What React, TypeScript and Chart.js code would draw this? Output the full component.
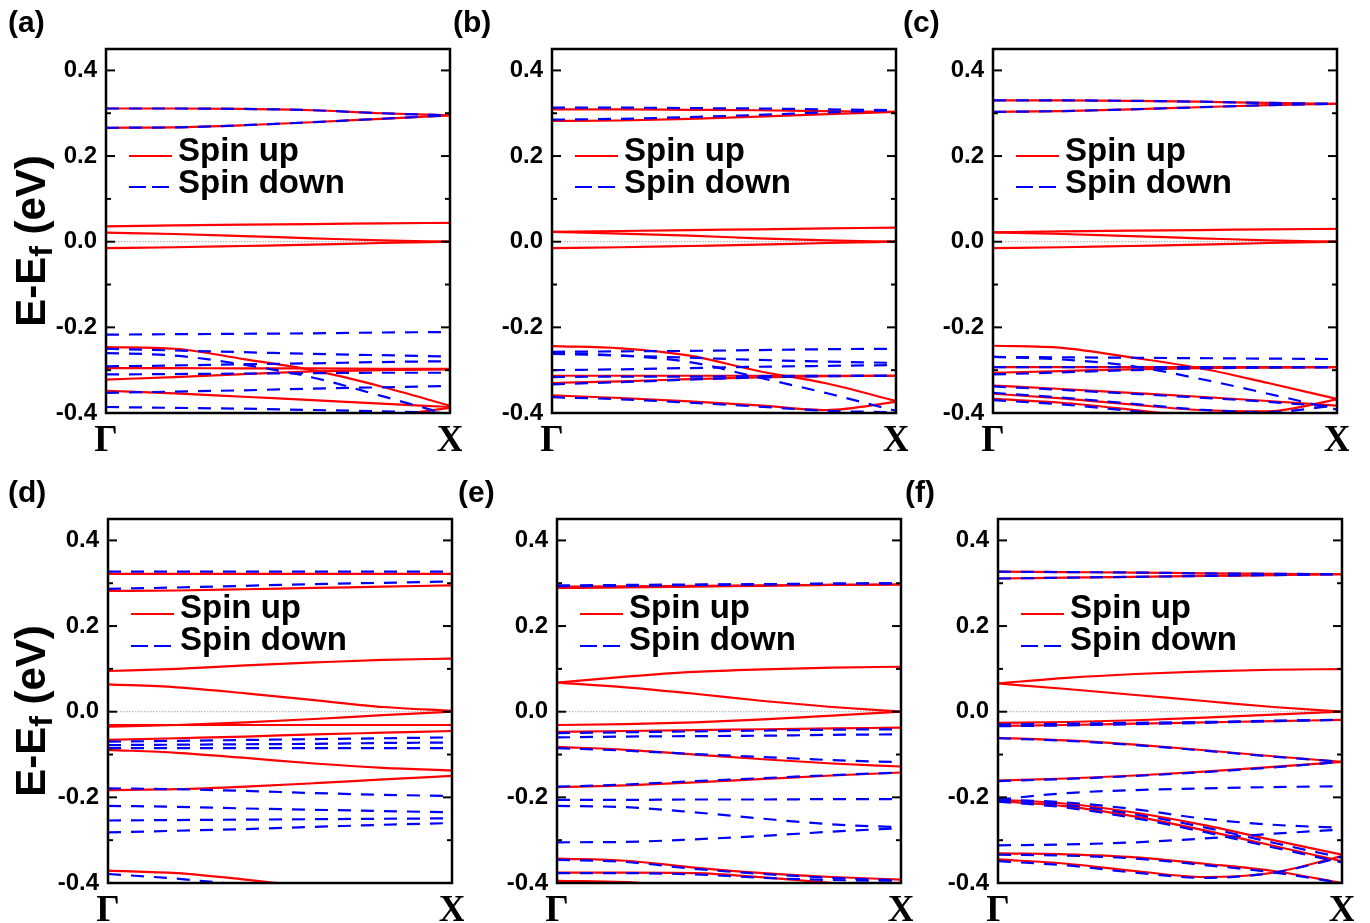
import React, { useEffect, useRef } from "react";
import { Chart, registerables } from "chart.js";
Chart.register(...registerables);

// k-path sampling points (Γ = 0, X = 1)
const K = [0, 0.2, 0.4, 0.6, 0.8, 1.0];
const ZERO_LINE = [0, 0, 0, 0, 0, 0];
const Y_TICKS = [-0.4, -0.2, 0.0, 0.2, 0.4];
const Y_MINOR = [-0.3, -0.1, 0.1, 0.3];
const X_TICK_LABELS = ["Γ", "X"];
const LEGEND_LABELS = ["Spin up", "Spin down"];
const PANEL_LABELS = ["(a)", "(b)", "(c)", "(d)", "(e)", "(f)"];
const Y_TITLE = ["E-E", "f", " (eV)"];

// ---------- panel (a) ----------
const A_UP = [
  [0.311, 0.311, 0.31, 0.307, 0.3, 0.295],
  [0.266, 0.267, 0.272, 0.279, 0.287, 0.295],
  [0.036, 0.038, 0.04, 0.041, 0.043, 0.044],
  [0.021, 0.018, 0.013, 0.008, 0.003, 0.0],
  [-0.015, -0.013, -0.01, -0.007, -0.003, 0.0],
  [-0.246, -0.25, -0.274, -0.3, -0.338, -0.383],
  [-0.295, -0.295, -0.296, -0.296, -0.297, -0.297],
  [-0.322, -0.316, -0.309, -0.303, -0.3, -0.298],
  [-0.348, -0.354, -0.362, -0.37, -0.378, -0.386],
  [-0.47, -0.46, -0.45, -0.435, -0.41, -0.388],
];
const A_DOWN = [
  [0.311, 0.311, 0.31, 0.307, 0.3, 0.295],
  [0.266, 0.267, 0.272, 0.279, 0.287, 0.295],
  [-0.217, -0.216, -0.215, -0.214, -0.212, -0.211],
  [-0.25, -0.254, -0.258, -0.262, -0.265, -0.268],
  [-0.26, -0.266, -0.287, -0.317, -0.36, -0.405],
  [-0.291, -0.289, -0.286, -0.284, -0.281, -0.279],
  [-0.31, -0.309, -0.308, -0.307, -0.306, -0.306],
  [-0.353, -0.35, -0.347, -0.343, -0.34, -0.337],
  [-0.386, -0.388, -0.39, -0.393, -0.396, -0.4],
];

// ---------- panel (b) ----------
const B_UP = [
  [0.309, 0.309, 0.308, 0.307, 0.305, 0.303],
  [0.282, 0.283, 0.287, 0.292, 0.298, 0.303],
  [0.023, 0.025, 0.027, 0.029, 0.031, 0.033],
  [0.023, 0.019, 0.014, 0.008, 0.003, 0.0],
  [-0.015, -0.013, -0.01, -0.007, -0.003, 0.0],
  [-0.244, -0.249, -0.266, -0.302, -0.331, -0.372],
  [-0.313, -0.313, -0.313, -0.313, -0.313, -0.313],
  [-0.33, -0.326, -0.321, -0.317, -0.314, -0.313],
  [-0.359, -0.365, -0.373, -0.382, -0.393, -0.374],
];
const B_DOWN = [
  [0.313, 0.313, 0.312, 0.311, 0.309, 0.307],
  [0.285, 0.287, 0.291, 0.296, 0.302, 0.307],
  [-0.257, -0.256, -0.255, -0.253, -0.251, -0.25],
  [-0.259, -0.266, -0.281, -0.317, -0.354, -0.395],
  [-0.262, -0.266, -0.271, -0.276, -0.28, -0.283],
  [-0.3, -0.298, -0.295, -0.292, -0.29, -0.288],
  [-0.316, -0.315, -0.315, -0.314, -0.313, -0.313],
  [-0.333, -0.328, -0.322, -0.317, -0.314, -0.313],
  [-0.363, -0.368, -0.376, -0.385, -0.395, -0.398],
];

// ---------- panel (c) ----------
const C_UP = [
  [0.33, 0.33, 0.329, 0.327, 0.324, 0.322],
  [0.303, 0.305, 0.309, 0.314, 0.319, 0.322],
  [0.022, 0.024, 0.026, 0.027, 0.029, 0.03],
  [0.022, 0.018, 0.013, 0.008, 0.003, 0.0],
  [-0.015, -0.013, -0.01, -0.007, -0.003, 0.0],
  [-0.243, -0.248, -0.27, -0.295, -0.33, -0.367],
  [-0.293, -0.293, -0.293, -0.293, -0.293, -0.293],
  [-0.306, -0.302, -0.298, -0.295, -0.294, -0.293],
  [-0.336, -0.344, -0.353, -0.362, -0.372, -0.383],
  [-0.355, -0.366, -0.38, -0.393, -0.396, -0.368],
  [-0.367, -0.376, -0.392, -0.41, -0.43, -0.45],
];
const C_DOWN = [
  [0.33, 0.33, 0.329, 0.327, 0.324, 0.322],
  [0.303, 0.305, 0.309, 0.314, 0.319, 0.322],
  [-0.269, -0.27, -0.271, -0.272, -0.273, -0.274],
  [-0.269, -0.275, -0.29, -0.32, -0.355, -0.392],
  [-0.293, -0.293, -0.293, -0.293, -0.293, -0.293],
  [-0.31, -0.305, -0.3, -0.296, -0.294, -0.293],
  [-0.338, -0.346, -0.355, -0.364, -0.374, -0.386],
  [-0.353, -0.364, -0.378, -0.392, -0.398, -0.382],
  [-0.37, -0.38, -0.395, -0.412, -0.43, -0.45],
];

// ---------- panel (d) ----------
const D_UP = [
  [0.322, 0.322, 0.322, 0.322, 0.322, 0.322],
  [0.282, 0.283, 0.286, 0.289, 0.292, 0.295],
  [0.095, 0.1, 0.108, 0.115, 0.121, 0.124],
  [0.064, 0.057, 0.043, 0.027, 0.011, 0.002],
  [-0.035, -0.031, -0.025, -0.017, -0.008, 0.0],
  [-0.031, -0.031, -0.031, -0.031, -0.031, -0.031],
  [-0.066, -0.062, -0.058, -0.053, -0.049, -0.045],
  [-0.089, -0.096, -0.108, -0.121, -0.131, -0.137],
  [-0.183, -0.181, -0.175, -0.167, -0.158, -0.15],
  [-0.371, -0.377, -0.392, -0.41, -0.43, -0.45],
];
const D_DOWN = [
  [0.327, 0.327, 0.327, 0.327, 0.327, 0.327],
  [0.287, 0.29, 0.294, 0.298, 0.301, 0.304],
  [-0.07, -0.068, -0.066, -0.064, -0.062, -0.06],
  [-0.078, -0.077, -0.076, -0.075, -0.073, -0.072],
  [-0.085, -0.085, -0.085, -0.085, -0.085, -0.085],
  [-0.179, -0.181, -0.185, -0.19, -0.194, -0.197],
  [-0.22, -0.222, -0.226, -0.229, -0.232, -0.235],
  [-0.254, -0.253, -0.252, -0.251, -0.25, -0.249],
  [-0.282, -0.278, -0.274, -0.269, -0.264, -0.26],
  [-0.379, -0.39, -0.405, -0.42, -0.44, -0.46],
];

// ---------- panel (e) ----------
const E_UP = [
  [0.292, 0.293, 0.294, 0.295, 0.296, 0.297],
  [0.289, 0.29, 0.292, 0.294, 0.296, 0.297],
  [0.068, 0.082, 0.093, 0.099, 0.103, 0.105],
  [0.068, 0.057, 0.042, 0.025, 0.011, 0.0],
  [-0.031, -0.029, -0.025, -0.018, -0.009, 0.0],
  [-0.047, -0.045, -0.043, -0.041, -0.039, -0.037],
  [-0.082, -0.089, -0.1, -0.111, -0.121, -0.128],
  [-0.176, -0.172, -0.165, -0.157, -0.149, -0.142],
  [-0.343, -0.348, -0.364, -0.377, -0.386, -0.392],
  [-0.376, -0.376, -0.377, -0.387, -0.4, -0.41],
  [-0.395, -0.398, -0.41, -0.42, -0.43, -0.44],
];
const E_DOWN = [
  [0.295, 0.296, 0.297, 0.298, 0.299, 0.3],
  [0.293, 0.294, 0.296, 0.297, 0.299, 0.3],
  [-0.05, -0.048, -0.046, -0.044, -0.042, -0.041],
  [-0.06, -0.058, -0.057, -0.056, -0.054, -0.053],
  [-0.085, -0.091, -0.099, -0.106, -0.113, -0.118],
  [-0.175, -0.17, -0.162, -0.155, -0.148, -0.142],
  [-0.206, -0.206, -0.205, -0.205, -0.204, -0.204],
  [-0.22, -0.223, -0.235, -0.25, -0.263, -0.27],
  [-0.305, -0.304, -0.298, -0.29, -0.28, -0.272],
  [-0.346, -0.351, -0.367, -0.379, -0.388, -0.394],
  [-0.377, -0.377, -0.38, -0.388, -0.393, -0.395],
];

// ---------- panel (f) ----------
const F_UP = [
  [0.327, 0.326, 0.325, 0.323, 0.322, 0.321],
  [0.311, 0.313, 0.315, 0.317, 0.319, 0.321],
  [0.066, 0.079, 0.088, 0.094, 0.098, 0.0995],
  [0.066, 0.053, 0.039, 0.025, 0.011, 0.0],
  [-0.026, -0.024, -0.02, -0.014, -0.007, 0.0],
  [-0.033, -0.031, -0.028, -0.025, -0.022, -0.019],
  [-0.061, -0.067, -0.077, -0.09, -0.104, -0.117],
  [-0.161, -0.156, -0.149, -0.14, -0.129, -0.117],
  [-0.205, -0.215, -0.236, -0.265, -0.3, -0.334],
  [-0.209, -0.221, -0.245, -0.277, -0.313, -0.349],
  [-0.331, -0.333, -0.34, -0.355, -0.372, -0.4],
  [-0.345, -0.355, -0.372, -0.386, -0.376, -0.337],
];
const F_DOWN = [
  [0.327, 0.326, 0.325, 0.323, 0.322, 0.321],
  [0.311, 0.313, 0.315, 0.317, 0.319, 0.321],
  [-0.03, -0.028, -0.026, -0.024, -0.021, -0.019],
  [-0.034, -0.032, -0.029, -0.026, -0.022, -0.019],
  [-0.062, -0.068, -0.078, -0.091, -0.105, -0.117],
  [-0.162, -0.157, -0.15, -0.141, -0.13, -0.117],
  [-0.205, -0.19, -0.183, -0.179, -0.176, -0.174],
  [-0.206, -0.218, -0.24, -0.27, -0.306, -0.341],
  [-0.21, -0.224, -0.249, -0.281, -0.317, -0.352],
  [-0.205, -0.212, -0.228, -0.25, -0.264, -0.271],
  [-0.312, -0.31, -0.305, -0.296, -0.285, -0.275],
  [-0.334, -0.336, -0.343, -0.358, -0.375, -0.4],
  [-0.349, -0.359, -0.376, -0.388, -0.376, -0.34],
];

const RED = "#ff0000";
const BLUE = "#0000ff";
const SANS = "'Liberation Sans', Arial, sans-serif";
const SERIF = "'Liberation Serif', 'Times New Roman', serif";

// layout of the six panels (pixel placement only)
const CANVAS_H = 453;
const AREA_W = 344;
const AREA_TOP = 49;
const AREA_H = 364;
const PANELS = [
  { label: 0, up: A_UP, down: A_DOWN, left: 0, top: 0, areaLeft: 106, title: true, leg: [103, 107, 135, 138] },
  { label: 1, up: B_UP, down: B_DOWN, left: 445, top: 0, areaLeft: 107, title: false, leg: [103, 107, 135, 138] },
  { label: 2, up: C_UP, down: C_DOWN, left: 895, top: 0, areaLeft: 98, title: false, leg: [103, 107, 135, 138] },
  { label: 3, up: D_UP, down: D_DOWN, left: 0, top: 470, areaLeft: 108, title: true, leg: [90, 95, 122, 127] },
  { label: 4, up: E_UP, down: E_DOWN, left: 450, top: 470, areaLeft: 107, title: false, leg: [90, 95, 122, 127] },
  { label: 5, up: F_UP, down: F_DOWN, left: 897, top: 470, areaLeft: 101, title: false, leg: [90, 95, 122, 127] },
];

const toPoints = (vals: number[]) => vals.map((y, i) => ({ x: K[i], y }));

const decorPlugin = {
  id: "decor",
  afterDatasetsDraw(chart: any, _args: any, opts: any) {
    const { ctx, chartArea: a, scales } = chart;
    const y = scales.y;
    ctx.save();
    ctx.strokeStyle = "#000";
    ctx.lineWidth = 2;
    const seg = (x1: number, y1: number, x2: number, y2: number) => {
      ctx.beginPath();
      ctx.moveTo(x1, y1);
      ctx.lineTo(x2, y2);
      ctx.stroke();
    };
    Y_TICKS.forEach((v) => {
      const py = y.getPixelForValue(v);
      seg(a.left, py, a.left + 9, py);
      seg(a.right - 9, py, a.right, py);
    });
    Y_MINOR.forEach((v) => {
      const py = y.getPixelForValue(v);
      seg(a.left, py, a.left + 5, py);
      seg(a.right - 5, py, a.right, py);
    });
    ctx.lineWidth = 2.5;
    ctx.strokeRect(a.left, a.top, a.right - a.left, a.bottom - a.top);

    // legend
    const leg = opts.leg;
    ctx.lineWidth = 2.2;
    ctx.strokeStyle = RED;
    seg(a.left + 23, a.top + leg[1], a.left + 66, a.top + leg[1]);
    ctx.strokeStyle = BLUE;
    ctx.setLineDash([17, 6]);
    seg(a.left + 23, a.top + leg[3], a.left + 64, a.top + leg[3]);
    ctx.setLineDash([]);
    ctx.fillStyle = "#000";
    ctx.font = `bold 33px ${SANS}`;
    ctx.textAlign = "left";
    ctx.textBaseline = "middle";
    ctx.fillText(LEGEND_LABELS[0], a.left + 72, a.top + leg[0]);
    ctx.fillText(LEGEND_LABELS[1], a.left + 72, a.top + leg[2]);

    // panel label
    ctx.font = `bold 30px ${SANS}`;
    ctx.textBaseline = "alphabetic";
    ctx.fillText(opts.label, 8, 32);

    // y title with subscript
    if (opts.title) {
      ctx.save();
      ctx.translate(45, 241);
      ctx.rotate(-Math.PI / 2);
      const big = `bold 42px ${SANS}`;
      const small = `bold 32px ${SANS}`;
      ctx.font = big;
      const w1 = ctx.measureText(Y_TITLE[0]).width;
      const w3 = ctx.measureText(Y_TITLE[2]).width;
      ctx.font = small;
      const w2 = ctx.measureText(Y_TITLE[1]).width;
      let x = -(w1 + w2 + w3) / 2;
      ctx.font = big;
      ctx.fillText(Y_TITLE[0], x, 0);
      x += w1;
      ctx.font = small;
      ctx.fillText(Y_TITLE[1], x, 7);
      x += w2;
      ctx.font = big;
      ctx.fillText(Y_TITLE[2], x, 0);
      ctx.restore();
    }
    ctx.restore();
  },
};

function Panel({ cfg }: { cfg: any }) {
  const ref = useRef<HTMLCanvasElement | null>(null);
  const W = cfg.areaLeft + AREA_W + 12;
  useEffect(() => {
    if (!ref.current) return;
    const datasets: any[] = [];
    cfg.down.forEach((b: number[]) =>
      datasets.push({
        data: toPoints(b),
        borderColor: BLUE,
        borderWidth: 2.2,
        borderDash: [13, 10],
        pointRadius: 0,
        fill: false,
        cubicInterpolationMode: "monotone",
        order: 0,
      })
    );
    cfg.up.forEach((b: number[]) =>
      datasets.push({
        data: toPoints(b),
        borderColor: RED,
        borderWidth: 2.2,
        pointRadius: 0,
        fill: false,
        cubicInterpolationMode: "monotone",
        order: 1,
      })
    );
    datasets.push({
      data: toPoints(ZERO_LINE),
      borderColor: "#a8a8a8",
      borderWidth: 1,
      borderDash: [1.5, 1.5],
      pointRadius: 0,
      fill: false,
      order: 2,
    });
    const chart = new Chart(ref.current, {
      type: "line",
      data: { datasets },
      options: {
        animation: false,
        responsive: false,
        maintainAspectRatio: false,
        events: [],
        layout: {
          padding: {
            left: 0,
            top: AREA_TOP,
            right: W - cfg.areaLeft - AREA_W,
            bottom: CANVAS_H - AREA_TOP - AREA_H - 40,
          },
        },
        plugins: {
          legend: { display: false },
          tooltip: { enabled: false },
          decor: { leg: cfg.leg, label: PANEL_LABELS[cfg.label], title: cfg.title },
        } as any,
        scales: {
          x: {
            type: "linear",
            min: 0,
            max: 1,
            grid: { display: false, drawTicks: false },
            border: { display: false },
            afterBuildTicks: (s: any) => {
              s.ticks = [{ value: 0 }, { value: 1 }];
            },
            afterFit: (s: any) => {
              s.height = 40;
              s.paddingLeft = 0;
              s.paddingRight = 0;
            },
            ticks: {
              autoSkip: false,
              maxRotation: 0,
              padding: 6,
              color: "#000",
              font: { family: SERIF, size: 37, weight: "bold" },
              callback: (_v: any, i: number) => X_TICK_LABELS[i],
            },
          },
          y: {
            type: "linear",
            min: -0.4,
            max: 0.45,
            grid: { display: false, drawTicks: false },
            border: { display: false },
            afterBuildTicks: (s: any) => {
              s.ticks = Y_TICKS.map((v) => ({ value: v }));
            },
            afterFit: (s: any) => {
              s.width = cfg.areaLeft;
              s.paddingTop = 0;
              s.paddingBottom = 0;
            },
            ticks: {
              padding: 9,
              color: "#000",
              font: { family: SANS, size: 24, weight: "bold" },
              callback: (v: any) => Number(v).toFixed(1),
            },
          },
        },
      } as any,
      plugins: [decorPlugin],
    });
    return () => chart.destroy();
  }, []);
  return (
    <canvas
      ref={ref}
      width={W}
      height={CANVAS_H}
      style={{ position: "absolute", left: cfg.left, top: cfg.top, width: W, height: CANVAS_H }}
    />
  );
}

export default function App() {
  return (
    <div style={{ position: "absolute", left: 0, top: 0, width: 1370, height: 923, background: "#fff", overflow: "hidden" }}>
      {PANELS.map((p, i) => (
        <Panel key={i} cfg={p} />
      ))}
    </div>
  );
}
